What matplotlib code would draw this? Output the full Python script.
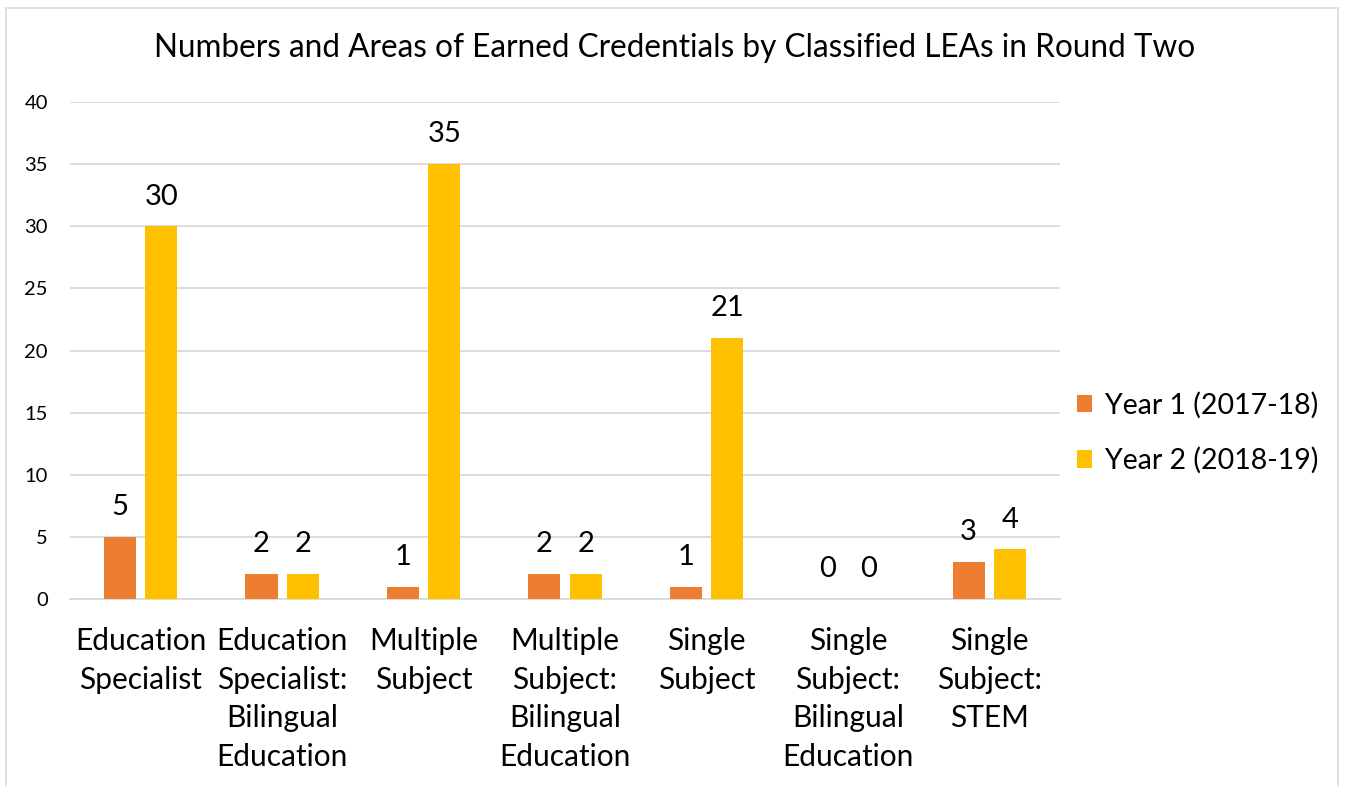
import matplotlib.pyplot as plt
import numpy as np
from matplotlib.patches import Rectangle

plt.rcParams['font.family'] = ['Lato', 'DejaVu Sans']

categories = ['Education\nSpecialist', 'Education\nSpecialist:\nBilingual\nEducation',
              'Multiple\nSubject', 'Multiple\nSubject:\nBilingual\nEducation',
              'Single\nSubject', 'Single\nSubject:\nBilingual\nEducation',
              'Single\nSubject:\nSTEM']
year1 = [5, 2, 1, 2, 1, 0, 3]
year2 = [30, 2, 35, 2, 21, 0, 4]
series_names = ['Year 1 (2017-18)', 'Year 2 (2018-19)']
colors = ['#ED7D31', '#FFC000']

fig = plt.figure(figsize=(13.46, 7.86), dpi=100)
W, H = 1346, 786

# chart frame
fig.patches.append(Rectangle((6 / W, -0.1), (1338 - 6) / W, 1.1 - 8 / H,
                             transform=fig.transFigure, fill=False,
                             edgecolor='#d9d9d9', linewidth=1.2))

ax = fig.add_axes([70 / W, 1 - 599 / H, 990 / W, (599 - 102) / H])

x = np.arange(len(categories))
bw = 0.228
off = 0.146
for vals, name, c, sgn in [(year1, series_names[0], colors[0], -1),
                           (year2, series_names[1], colors[1], 1)]:
    ax.bar(x + sgn * off, vals, bw, color=c, label=name, zorder=3)
    for xi, v in zip(x + sgn * off, vals):
        ax.annotate(str(v), (xi, v), xytext=(0, 12), textcoords='offset points',
                    ha='center', va='bottom', fontsize=21, color='#000000')

ax.set_xlim(-0.5, len(categories) - 0.5)
ax.set_ylim(0, 40)
ax.set_yticks(range(0, 41, 5))
ax.set_xticks(x)
ax.set_xticklabels(categories, fontsize=21.5, linespacing=1.47)
ax.tick_params(axis='y', labelsize=14.5, length=0, pad=16)
ax.tick_params(axis='x', length=0, pad=20)
ax.grid(axis='y', color='#d9d9d9', linewidth=1.3, zorder=0)
for s in ['top', 'right', 'left']:
    ax.spines[s].set_visible(False)
ax.spines['bottom'].set_color('#d9d9d9')
ax.spines['bottom'].set_linewidth(1.3)

fig.text(675 / W, 1 - 48 / H,
         'Numbers and Areas of Earned Credentials by Classified LEAs in Round Two',
         ha='center', va='center', fontsize=22.7)

ax.legend(loc='center left', bbox_to_anchor=(1051 / W, 1 - 433 / H),
          bbox_transform=fig.transFigure, frameon=False, fontsize=20.5,
          handlelength=0.55, handleheight=0.55, handletextpad=0.45,
          labelspacing=1.0)

fig.savefig('out.png', dpi=100)
